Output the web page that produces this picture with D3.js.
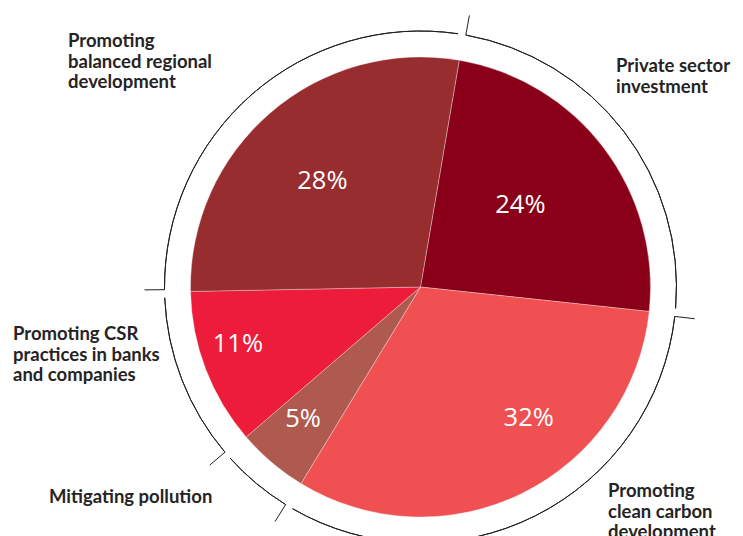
<!DOCTYPE html>
<html>
<head>
<meta charset="utf-8">
<script src="https://cdn.jsdelivr.net/npm/d3@7"></script>
<style>
  body { margin: 0; background: #fff; }
  .cat { font-family: Lato, sans-serif; font-weight: 700; font-size: 18.5px; fill: #262324; }
  .pct { font-family: "Open Sans", sans-serif; font-weight: 400; font-size: 25.5px; fill: #fff; }
</style>
</head>
<body>
<div id="chart"></div>
<script>
// slices in clockwise order, starting just right of twelve o'clock
var categories = [
  "Private sector investment",
  "Promoting clean carbon development",
  "Mitigating pollution",
  "Promoting CSR practices in banks and companies",
  "Promoting balanced regional development"
];
var shares = [24, 32, 5, 11, 28];
var pctLabels = ["24%", "32%", "5%", "11%", "28%"];
var colors = ["#8a0019", "#f05052", "#ae5a4f", "#ed1c3b", "#982d30"];

// wrapped category text, one array of lines per slice
var catLines = [
  ["Private sector", "investment"],
  ["Promoting", "clean carbon", "development"],
  ["Mitigating pollution"],
  ["Promoting CSR", "practices in banks", "and companies"],
  ["Promoting", "balanced regional", "development"]
];

var W = 743, H = 536;
var cx = 420.5, cy = 287, R = 230, ringR = 256, tickLen = 20;
var deg = Math.PI / 180;
var start = 9.7 * deg;

// where each text block goes (x, first baseline)
var catPos = [[616, 72], [608, 497], [49, 503], [13, 340], [68, 47]];
// percentage label spots as [angle in degrees, radius]
var pctSpots = [[50.2, 130], [140.2, 169], [221.9, 176], [253, 191], [317.4, 145]];

var svg = d3.select("#chart").append("svg")
  .attr("width", W).attr("height", H);

var pie = d3.pie().sort(null).value(function (d) { return d; })
  .startAngle(start).endAngle(start + 2 * Math.PI);
var arcs = pie(shares);

var arc = d3.arc().innerRadius(0).outerRadius(R);
var g = svg.append("g").attr("transform", "translate(" + cx + "," + cy + ")");

g.selectAll("path.slice").data(arcs).enter().append("path")
  .attr("class", "slice")
  .attr("d", arc)
  .attr("fill", function (d, i) { return colors[i]; })
  .attr("stroke", "rgba(255,255,255,0.45)")
  .attr("stroke-width", 0.7);

// outer bracket ring: one arc per slice, with an outward tick at its start
var ring = d3.arc().innerRadius(ringR).outerRadius(ringR);
arcs.forEach(function (d) {
  var a0 = d.startAngle + 0.5 * deg, a1 = d.endAngle - 1.3 * deg;
  g.append("path")
    .attr("d", ring({ startAngle: a0, endAngle: a1 }))
    .attr("fill", "none").attr("stroke", "#231f20").attr("stroke-width", 1);
  g.append("line")
    .attr("x1", ringR * Math.sin(a0)).attr("y1", -ringR * Math.cos(a0))
    .attr("x2", (ringR + tickLen) * Math.sin(a0)).attr("y2", -(ringR + tickLen) * Math.cos(a0))
    .attr("stroke", "#231f20").attr("stroke-width", 1);
});

// percentages
g.selectAll("text.pct").data(arcs).enter().append("text")
  .attr("class", "pct")
  .attr("text-anchor", "middle")
  .attr("dy", "0.36em")
  .attr("x", function (d, i) { return pctSpots[i][1] * Math.sin(pctSpots[i][0] * deg); })
  .attr("y", function (d, i) { return -pctSpots[i][1] * Math.cos(pctSpots[i][0] * deg); })
  .text(function (d, i) { return pctLabels[i]; });

// category names
catLines.forEach(function (lines, i) {
  var t = svg.append("text").attr("class", "cat")
    .attr("x", catPos[i][0]).attr("y", catPos[i][1])
    .attr("data-name", categories[i]);
  lines.forEach(function (ln, k) {
    t.append("tspan").attr("x", catPos[i][0]).attr("dy", k === 0 ? 0 : 20.5).text(ln);
  });
});
</script>
</body>
</html>
